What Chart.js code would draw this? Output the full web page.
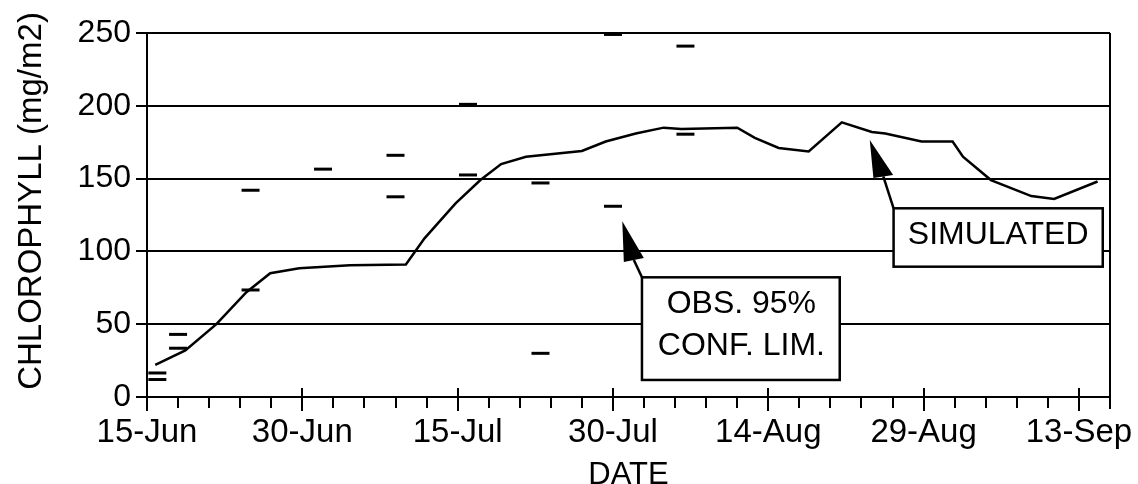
<!DOCTYPE html>
<html>
<head>
<meta charset="utf-8">
<title>Chlorophyll</title>
<script src="https://cdn.jsdelivr.net/npm/chart.js@4.4.1/dist/chart.umd.min.js"></script>
<style>
  html, body { margin: 0; padding: 0; background: #fff; }
  #wrap { width: 1138px; height: 484px; }
</style>
</head>
<body>
<div id="wrap"><canvas id="chart" width="1138" height="484"></canvas></div>
<script>
// x values are days after 15-Jun
const simDays = [0.8, 3.7, 6.7, 9.6, 11.9, 14.7, 19.6, 25.0, 26.8, 29.8, 32.2, 34.2, 36.6, 42.0, 44.3, 47.2, 49.9, 51.6, 57.0, 58.7, 61.0, 63.9, 67.1, 70.0, 71.3, 74.8, 77.8, 78.8, 81.5, 85.4, 87.6, 91.8];
const simValues = [22, 32, 50, 72, 85, 88.5, 90.5, 91, 109, 133, 149, 160, 165, 169, 175.5, 181, 185, 184, 185, 178, 171, 168.6, 188.6, 182, 181, 175.5, 175.5, 165, 149, 138, 136, 148];

const obsDays = [1, 3, 10, 17, 24, 31, 38, 45, 52];
const obsUpper = [16.5, 43, 142, 156.5, 166, 201, 147, 249, 241];
const obsLower = [12, 33.5, 73.5, null, 137.5, 152.5, 30, 131, 180.5];

const xTickDays = [0, 15, 30, 45, 60, 75, 90];
const xTickLabels = ['15-Jun', '30-Jun', '15-Jul', '30-Jul', '14-Aug', '29-Aug', '13-Sep'];
const xMax = 93;
const yMax = 250;

const FONT = '"Liberation Sans", Arial, Helvetica, sans-serif';

// callout boxes, in data units
const notes = [
  { x1: 47.8, x2: 66.9, y1: 82.2, y2: 11.7, lines: ['OBS. 95%', 'CONF. LIM.'], textX: 57.4, textY: [63.9, 34.6],
    tip: [45.9, 120.7], headA: [46.05, 92.7], headB: [47.98, 95.5] },
  { x1: 72.1, x2: 92.3, y1: 129.6, y2: 89.5, lines: ['SIMULATED'], textX: 82.2, textY: [111.3],
    tip: [69.8, 176.5], headA: [70.15, 150.4], headB: [72.06, 152.5] }
];

function pts(xs, ys) {
  return xs.map((d, i) => ({ x: d, y: ys[i] })).filter(p => p.y !== null);
}

const extras = {
  id: 'extras',
  afterDatasetsDraw(chart) {
    const { ctx, chartArea, scales: { x, y } } = chart;
    ctx.save();
    ctx.strokeStyle = '#000';
    ctx.fillStyle = '#000';
    ctx.lineWidth = 2;

    // x ticks every 3 days, the labelled ones cross the axis
    for (let d = 0; d <= xMax; d += 3) {
      const px = Math.round(x.getPixelForValue(d));
      const major = xTickDays.includes(d);
      ctx.beginPath();
      ctx.moveTo(px, chartArea.bottom - (major ? 9 : 0));
      ctx.lineTo(px, chartArea.bottom + (major ? 14 : 11));
      ctx.stroke();
    }

    // right frame line
    const rx = Math.round(x.getPixelForValue(xMax));
    ctx.beginPath();
    ctx.moveTo(rx, y.getPixelForValue(yMax));
    ctx.lineTo(rx, chartArea.bottom + 12);
    ctx.stroke();

    // callouts
    notes.forEach(n => {
      const bx1 = x.getPixelForValue(n.x1), bx2 = x.getPixelForValue(n.x2);
      const by1 = y.getPixelForValue(n.y1), by2 = y.getPixelForValue(n.y2);
      const tx = x.getPixelForValue(n.tip[0]), ty = y.getPixelForValue(n.tip[1]);
      const ax = x.getPixelForValue(n.headA[0]), ay = y.getPixelForValue(n.headA[1]);
      const bx = x.getPixelForValue(n.headB[0]), by = y.getPixelForValue(n.headB[1]);

      ctx.fillStyle = '#fff';
      ctx.fillRect(bx1, by1, bx2 - bx1, by2 - by1);
      ctx.lineWidth = 2.5;
      ctx.strokeRect(bx1, by1, bx2 - bx1, by2 - by1);

      ctx.beginPath();
      ctx.moveTo((ax + bx) / 2, (ay + by) / 2);
      ctx.lineTo(bx1, by1);
      ctx.stroke();

      ctx.fillStyle = '#000';
      ctx.beginPath();
      ctx.moveTo(tx, ty);
      ctx.lineTo(ax, ay);
      ctx.lineTo(bx, by);
      ctx.closePath();
      ctx.fill();

      ctx.font = '32px ' + FONT;
      ctx.textAlign = 'center';
      ctx.textBaseline = 'middle';
      n.lines.forEach((t, i) => {
        ctx.fillText(t, x.getPixelForValue(n.textX), y.getPixelForValue(n.textY[i]));
      });
    });

    // y axis title
    ctx.translate(32, 201);
    ctx.rotate(-Math.PI / 2);
    ctx.font = '33px ' + FONT;
    ctx.textAlign = 'center';
    ctx.textBaseline = 'middle';
    ctx.fillText('CHLOROPHYLL (mg/m2)', 0, 0);
    ctx.restore();
  }
};

document.addEventListener('DOMContentLoaded', () => {
  new Chart(document.getElementById('chart'), {
    type: 'line',
    data: {
      datasets: [{
        label: 'Simulated',
        data: pts(simDays, simValues),
        borderColor: '#000',
        borderWidth: 2.5,
        pointRadius: 0,
        tension: 0,
        fill: false
      }, {
        type: 'scatter',
        label: 'Upper limit',
        data: pts(obsDays, obsUpper),
        pointStyle: 'line',
        pointRadius: 9,
        borderWidth: 3,
        borderColor: '#000'
      }, {
        type: 'scatter',
        label: 'Lower limit',
        data: pts(obsDays, obsLower),
        pointStyle: 'line',
        pointRadius: 9,
        borderWidth: 3,
        borderColor: '#000'
      }]
    },
    options: {
      responsive: false,
      animation: false,
      devicePixelRatio: 1,
      layout: { padding: { left: 0, right: 28, top: 33, bottom: 0 } },
      plugins: { legend: { display: false }, tooltip: { enabled: false } },
      scales: {
        x: {
          type: 'linear',
          min: 0,
          max: xMax,
          afterBuildTicks: s => { s.ticks = xTickDays.map(v => ({ value: v })); },
          afterFit: s => { s.height = 87; s.paddingLeft = 0; s.paddingRight = 0; },
          ticks: {
            callback: v => xTickLabels[xTickDays.indexOf(v)],
            font: { family: FONT, size: 33 },
            color: '#000',
            padding: 16,
            maxRotation: 0,
            autoSkip: false
          },
          grid: { display: false, drawTicks: false },
          border: { display: true, color: '#000', width: 2 },
          title: {
            display: true,
            text: 'DATE',
            color: '#000',
            font: { family: FONT, size: 31, lineHeight: 1 },
            padding: { top: 0, bottom: -7 }
          }
        },
        y: {
          min: 0,
          max: yMax,
          afterFit: s => { s.width = 147; s.paddingTop = 0; s.paddingBottom = 0; },
          ticks: {
            stepSize: 50,
            font: { family: FONT, size: 32 },
            color: '#000',
            padding: 5
          },
          grid: { color: '#000', lineWidth: 2, tickLength: 11 },
          border: { color: '#000', width: 2 }
        }
      }
    },
    plugins: [extras]
  });
});
</script>
</body>
</html>
